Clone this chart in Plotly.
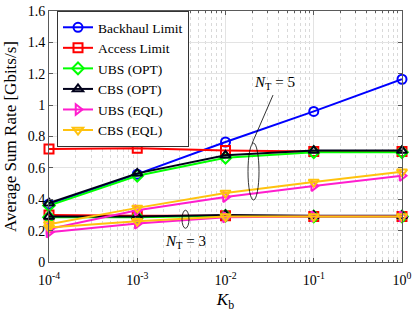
import plotly.graph_objects as go

kb = [1e-4, 1e-3, 1e-2, 1e-1, 1e0]
x_tick_vals = [1e-4, 1e-3, 1e-2, 1e-1, 1e0]
x_tick_text = ["10<sup>-4</sup>", "10<sup>-3</sup>", "10<sup>-2</sup>", "10<sup>-1</sup>", "10<sup>0</sup>"]
y_tick_vals = [0, 0.2, 0.4, 0.6, 0.8, 1.0, 1.2, 1.4, 1.6]
y_tick_text = ["0", "0.2", "0.4", "0.6", "0.8", "1", "1.2", "1.4", "1.6"]

backhaul = [0.37, 0.56, 0.765, 0.96, 1.165]
access_5 = [0.72, 0.725, 0.71, 0.705, 0.705]
access_3 = [0.30, 0.295, 0.295, 0.29, 0.29]
ubs_opt_5 = [0.36, 0.55, 0.665, 0.70, 0.70]
ubs_opt_3 = [0.285, 0.285, 0.295, 0.29, 0.29]
cbs_opt_5 = [0.375, 0.565, 0.68, 0.71, 0.71]
cbs_opt_3 = [0.29, 0.29, 0.30, 0.295, 0.295]
ubs_eql_5 = [0.21, 0.33, 0.415, 0.485, 0.55]
ubs_eql_3 = [0.19, 0.245, 0.285, 0.29, 0.29]
cbs_eql_5 = [0.24, 0.345, 0.44, 0.51, 0.575]
cbs_eql_3 = [0.22, 0.26, 0.29, 0.29, 0.29]

minor_vals = [m * 10.0 ** e for e in range(-4, 0) for m in range(2, 10)]

FONT = "Liberation Serif"

series = [
    ("Backhaul Limit", [backhaul], "#0000FF", "circle-open"),
    ("Access Limit", [access_5, access_3], "#FF0000", "square-open"),
    ("UBS (OPT)", [ubs_opt_5, ubs_opt_3], "#00FF00", "diamond-open"),
    ("CBS (OPT)", [cbs_opt_5, cbs_opt_3], "#00001A", "triangle-up-open"),
    ("UBS (EQL)", [ubs_eql_5, ubs_eql_3], "#FF1DCE", "triangle-right-open"),
    ("CBS (EQL)", [cbs_eql_5, cbs_eql_3], "#FFC20E", "triangle-down-open"),
]

fig = go.Figure()
for name, curves, color, sym in series:
    for i, ys in enumerate(curves):
        fig.add_trace(go.Scatter(
            x=kb, y=ys, mode="lines+markers", name=name,
            showlegend=(i == 0),
            line=dict(color=color, width=2),
            marker=dict(symbol=sym, size=9, color=color, line=dict(width=2, color=color)),
            cliponaxis=False,
        ))

L, R, T, B = 49, 13, 11, 50
pw = 415 - L - R
ph = 312 - T - B

def px2paper(px):
    return (px - L) / pw

def py2paper(py):
    return (312 - B - py) / ph

# ellipses and annotation lines
fig.add_shape(type="circle", xref="paper", yref="y",
              x0=px2paper(248), x1=px2paper(259), y0=0.395, y1=0.758,
              line=dict(color="black", width=0.8))
fig.add_shape(type="circle", xref="paper", yref="y",
              x0=px2paper(182), x1=px2paper(189), y0=0.215, y1=0.33,
              line=dict(color="black", width=0.8))
fig.add_shape(type="line", xref="paper", yref="y",
              x0=px2paper(273), y0=1.064, x1=px2paper(252), y1=0.755,
              line=dict(color="black", width=0.8))

fig.add_annotation(xref="paper", yref="y", x=px2paper(274), y=1.14,
                   text="<i>N</i><sub>T</sub> = 5", showarrow=False,
                   font=dict(family=FONT, size=15, color="black"))
fig.add_annotation(xref="paper", yref="y", x=px2paper(185), y=0.13,
                   text="<i>N</i><sub>T</sub> = 3", showarrow=False,
                   font=dict(family=FONT, size=15, color="black"))

axis_common = dict(
    showline=True, linecolor="#5a5a5a", linewidth=1, mirror="allticks",
    ticks="inside", ticklen=4, tickcolor="#5a5a5a",
    showgrid=True, gridcolor="#e3e3e3", gridwidth=1,
    zeroline=False, automargin=False,
    tickfont=dict(family=FONT, size=14, color="black"),
)

fig.update_xaxes(
    type="log", range=[-4, 0],
    tickvals=x_tick_vals, ticktext=x_tick_text, ticklabelstandoff=5,
    minor=dict(tickvals=minor_vals, ticks="inside", ticklen=2, tickcolor="#5a5a5a",
               showgrid=True, griddash="dot", gridcolor="#d9d9d9"),
    title=dict(text="<i>K</i><sub>b</sub>", font=dict(family=FONT, size=17, color="black"), standoff=10),
    **axis_common,
)
fig.update_yaxes(
    range=[0, 1.6], tickvals=y_tick_vals, ticktext=y_tick_text,
    title=dict(text="Average Sum Rate [Gbits/s]", font=dict(family=FONT, size=17, color="black"), standoff=6),
    **axis_common,
)

fig.update_layout(
    width=415, height=312,
    margin=dict(l=L, r=R, t=T, b=B, autoexpand=False),
    paper_bgcolor="white", plot_bgcolor="white",
    font=dict(family=FONT, color="black"),
    legend=dict(x=px2paper(57), y=py2paper(11), xanchor="left", yanchor="top",
                bgcolor="white", bordercolor="#333", borderwidth=1,
                font=dict(family=FONT, size=13.5, color="black"),
                itemwidth=30, tracegroupgap=0),
    showlegend=True,
)

fig.write_html("out.html", config={"displayModeBar": False},
               post_script="document.body.style.margin='0';")
